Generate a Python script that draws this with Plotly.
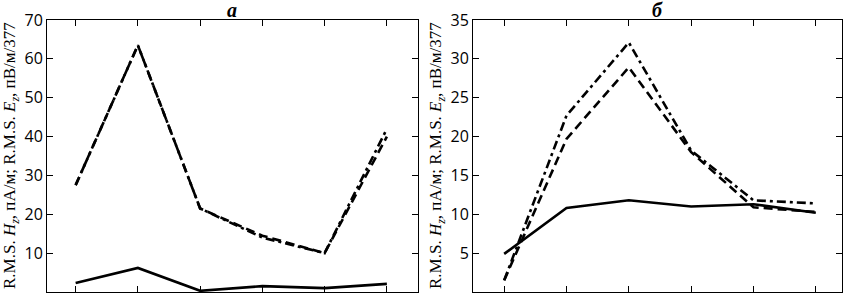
import plotly.graph_objects as go

x_pts = [0, 1, 2, 3, 4, 5]

# Panel а
a_solid = [2.3, 6.2, 0.3, 1.5, 1.0, 2.1]
a_dashed = [27.5, 63.5, 21.5, 14.5, 10.0, 40.0]
a_dashdot = [27.5, 63.5, 21.5, 14.0, 10.0, 42.0]

# Panel б
b_solid = [4.9, 10.8, 11.8, 11.0, 11.3, 10.2]
b_dashed = [1.5, 19.7, 28.9, 18.0, 10.9, 10.3]
b_dashdot = [1.5, 22.7, 32.1, 18.2, 11.8, 11.4]

a_yticks = [10, 20, 30, 40, 50, 60, 70]
b_yticks = [5, 10, 15, 20, 25, 30, 35]

titles = ["а", "б"]
ytitle = ("R.M.S. <i>H</i><sub><i>z</i></sub>, пА/м; "
          "R.M.S. <i>E</i><sub><i>z</i></sub>, пВ/м/377")

fig = go.Figure()
lw = 2.6
dash_d = "9px,5px"
dash_dd = "9px,4px,3px,4px"

for xa, ya, s, d, dd in [("x", "y", a_solid, a_dashed, a_dashdot),
                         ("x2", "y2", b_solid, b_dashed, b_dashdot)]:
    fig.add_trace(go.Scatter(x=x_pts, y=dd, mode="lines", xaxis=xa, yaxis=ya,
                             line=dict(color="black", width=lw, dash=dash_dd)))
    fig.add_trace(go.Scatter(x=x_pts, y=d, mode="lines", xaxis=xa, yaxis=ya,
                             line=dict(color="black", width=lw, dash=dash_d)))
    fig.add_trace(go.Scatter(x=x_pts, y=s, mode="lines", xaxis=xa, yaxis=ya,
                             line=dict(color="black", width=lw)))

ydom = [2 / 294, 274 / 294]
common_x = dict(showgrid=False, zeroline=False, showline=True, linecolor="black",
                linewidth=1, mirror="ticks", ticks="inside", ticklen=6,
                tickcolor="black", showticklabels=False, tickvals=x_pts,
                automargin=False)
common_y = dict(showgrid=False, zeroline=False, showline=True, linecolor="black",
                linewidth=1, mirror="ticks", ticks="inside", ticklen=6,
                tickcolor="black", automargin=False,
                tickfont=dict(family="Open Sans", size=16, color="black"))

fig.update_layout(
    template="none",
    width=848, height=294, showlegend=False,
    plot_bgcolor="white", paper_bgcolor="white",
    margin=dict(l=0, r=0, t=0, b=0, autoexpand=False),
    xaxis=dict(domain=[47 / 848, 418 / 848], range=[-0.46, 5.5], **common_x),
    xaxis2=dict(domain=[473 / 848, 842 / 848], range=[-0.5, 5.42], **common_x),
    yaxis=dict(domain=ydom, range=[0, 70], tickvals=a_yticks, anchor="x", **common_y),
    yaxis2=dict(domain=ydom, range=[0, 35], tickvals=b_yticks, anchor="x2", **common_y),
)

for xc, t in [((47 + 418) / 2 / 848, titles[0]), ((473 + 842) / 2 / 848, titles[1])]:
    fig.add_annotation(x=xc, y=1.01, xref="paper", yref="paper", yanchor="top",
                       xanchor="center",
                       text="<b><i>" + t + "</i></b>", showarrow=False,
                       font=dict(family="Liberation Serif", size=20, color="black"))

for xp in [11 / 848, 437 / 848]:
    fig.add_annotation(x=xp, y=(294 - 156) / 294, xref="paper", yref="paper",
                       xanchor="center", yanchor="middle",
                       text=ytitle, textangle=-90, showarrow=False,
                       font=dict(family="Liberation Serif", size=17, color="black"))

fig.write_html("out.html", config={"displayModeBar": False},
               post_script="document.body.style.margin='0';document.body.style.overflow='hidden';")
